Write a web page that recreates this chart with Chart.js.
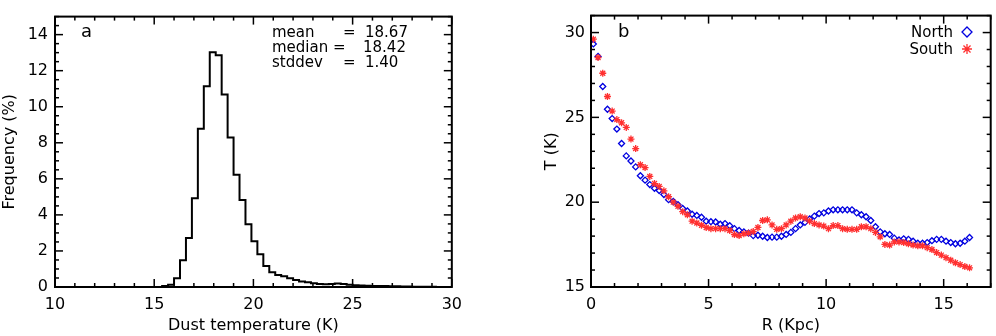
<!DOCTYPE html>
<html><head><meta charset="utf-8">
<script src="https://cdn.jsdelivr.net/npm/chart.js@4.4.1/dist/chart.umd.min.js"></script>
<style>
html,body{margin:0;padding:0;background:#fff;}
#wrap{position:relative;width:996px;height:336px;overflow:hidden;background:#fff;}
#c1{position:absolute;left:0;top:0;width:470px;height:336px;}
#c2{position:absolute;left:542px;top:0;width:454px;height:336px;}
</style></head><body>
<div id="wrap"><canvas id="c1" width="470" height="336"></canvas><canvas id="c2" width="454" height="336"></canvas></div>
<script>
// ---------- Panel a: histogram of dust temperature ----------
const binEdges = [15.4,15.7,16.0,16.3,16.6,16.9,17.2,17.5,17.8,18.1,18.4,18.7,19.0,19.3,19.6,19.9,20.2,20.5,20.8,21.1,
  21.4,21.7,22.0,22.3,22.6,22.9,23.2,23.5,23.8,24.1,24.4,24.7,25.0,25.3,25.6,25.9,26.2,26.5,26.8,27.1,
  27.4,27.7,28.0,28.3,28.6,28.9,29.2];
const frequency = [0.05,0.12,0.49,1.49,2.72,4.92,8.78,11.14,13.02,12.85,10.68,8.30,6.22,4.82,3.48,2.54,1.82,1.16,0.82,0.67,
  0.60,0.49,0.39,0.31,0.26,0.21,0.17,0.15,0.17,0.20,0.16,0.12,0.10,0.08,0.07,0.06,0.05,0.05,0.04,0.04,
  0.03,0.03,0.02,0.02,0.02,0.01];
const histXTicks = [10,15,20,25,30];
const histYTicks = [0,2,4,6,8,10,12,14];
const statLabels = ['mean','median','stddev'];
const statValues = ['18.67','18.42','1.40'];

// ---------- Panel b: radial temperature profiles ----------
const rKpc = [0.1,0.3,0.5,0.7,0.9,1.1,1.3,1.5,1.7,1.9,2.1,2.3,2.5,2.7,2.9,3.1,3.3,3.5,3.7,3.9,
  4.1,4.3,4.5,4.7,4.9,5.1,5.3,5.5,5.7,5.9,6.1,6.3,6.5,6.7,6.9,7.1,7.3,7.5,7.7,7.9,
  8.1,8.3,8.5,8.7,8.9,9.1,9.3,9.5,9.7,9.9,10.1,10.3,10.5,10.7,10.9,11.1,11.3,11.5,11.7,11.9,
  12.1,12.3,12.5,12.7,12.9,13.1,13.3,13.5,13.7,13.9,14.1,14.3,14.5,14.7,14.9,15.1,15.3,15.5,15.7,15.9,16.1];
const northT = [29.33,28.59,26.82,25.48,24.93,24.31,23.46,22.73,22.43,22.08,
  21.56,21.30,21.04,20.82,20.69,20.45,20.15,20.04,19.85,19.63,
  19.48,19.29,19.22,19.11,18.88,18.85,18.83,18.70,18.74,18.61,
  18.44,18.33,18.25,18.18,18.03,18.05,17.99,17.92,17.94,17.94,
  17.99,18.10,18.22,18.44,18.66,18.81,19.01,19.18,19.33,19.37,
  19.48,19.55,19.55,19.55,19.55,19.55,19.37,19.26,19.14,18.92,
  18.55,18.25,18.14,18.10,17.88,17.77,17.84,17.81,17.70,17.58,
  17.58,17.62,17.73,17.81,17.81,17.70,17.62,17.55,17.58,17.70,17.92];
const southT = [29.61,28.53,27.60,26.23,25.37,24.87,24.68,24.41,23.72,23.16,
  22.21,22.04,21.52,21.10,20.93,20.67,20.32,20.00,19.76,19.44,
  19.26,18.88,18.77,18.64,18.51,18.44,18.44,18.44,18.44,18.33,
  18.09,18.03,18.14,18.18,18.27,18.51,18.92,18.96,18.66,18.40,
  18.44,18.66,18.88,19.07,19.14,19.07,18.88,18.74,18.66,18.59,
  18.44,18.62,18.62,18.44,18.40,18.40,18.40,18.55,18.55,18.44,
  18.22,17.96,17.51,17.47,17.66,17.66,17.62,17.55,17.47,17.43,
  17.43,17.32,17.21,17.03,16.88,16.73,16.58,16.43,16.32,16.21,16.13];
const profXTicks = [0,5,10,15];
const profYTicks = [15,20,25,30];
const seriesNames = ['North','South'];

Chart.defaults.font.family = "'DejaVu Sans', sans-serif";
Chart.defaults.font.size = 16;
Chart.defaults.color = '#000';

// IDL-like boxed frame with inward ticks on all four sides
const frameTicks = {
  id: 'frameTicks',
  afterDatasetsDraw(chart, args, o) {
    const {ctx, chartArea: a, scales} = chart;
    const xs = scales.x, ys = scales.y;
    ctx.save();
    ctx.strokeStyle = '#000';
    ctx.lineWidth = 1.5;
    const seg = (x1, y1, x2, y2) => { ctx.beginPath(); ctx.moveTo(x1, y1); ctx.lineTo(x2, y2); ctx.stroke(); };
    const isMajor = (v, m) => Math.abs(v / m - Math.round(v / m)) < 1e-6;
    const nx = Math.round((xs.max - xs.min) / o.xMinor);
    for (let i = 0; i <= nx; i++) {
      const v = xs.min + i * o.xMinor;
      const p = xs.getPixelForValue(v);
      const L = isMajor(v, o.xMajor) ? 8 : 4;
      seg(p, a.bottom, p, a.bottom - L);
      seg(p, a.top, p, a.top + L);
    }
    const ny = Math.round((ys.max - ys.min) / o.yMinor);
    for (let i = 0; i <= ny; i++) {
      const v = ys.min + i * o.yMinor;
      const p = ys.getPixelForValue(v);
      const L = isMajor(v, o.yMajor) ? 8 : 4;
      seg(a.left, p, a.left + L, p);
      seg(a.right, p, a.right - L, p);
    }
    ctx.lineWidth = 2;
    ctx.strokeRect(a.left, a.top, a.right - a.left, a.bottom - a.top);
    ctx.restore();
  }
};

// free text and legend glyphs
const textLayer = {
  id: 'textLayer',
  afterDraw(chart, args, o) {
    const ctx = chart.ctx;
    ctx.save();
    ctx.fillStyle = '#000';
    ctx.textBaseline = 'alphabetic';
    (o.items || []).forEach(t => {
      ctx.font = (t.size || 15) + "px 'DejaVu Sans', sans-serif";
      ctx.textAlign = t.align || 'left';
      ctx.fillText(t.text, t.x, t.y);
    });
    (o.marks || []).forEach(m => {
      ctx.strokeStyle = m.color; ctx.lineWidth = 1.3;
      ctx.beginPath();
      if (m.type === 'diamond') {
        ctx.moveTo(m.x, m.y - m.r); ctx.lineTo(m.x + m.r, m.y); ctx.lineTo(m.x, m.y + m.r); ctx.lineTo(m.x - m.r, m.y); ctx.closePath();
      } else {
        for (let k = 0; k < 4; k++) {
          const ang = k * Math.PI / 4;
          ctx.moveTo(m.x - m.r * Math.cos(ang), m.y - m.r * Math.sin(ang));
          ctx.lineTo(m.x + m.r * Math.cos(ang), m.y + m.r * Math.sin(ang));
        }
      }
      ctx.stroke();
    });
    ctx.restore();
  }
};

function fixedTicks(list) {
  return function (scale) { scale.ticks = list.map(v => ({value: v})); };
}

// histogram as a stepped outline
const histData = [{x: binEdges[0] - 0.3, y: 0}];
binEdges.forEach((e, i) => { if (i < frequency.length) histData.push({x: e, y: frequency[i]}); });
histData.push({x: binEdges[frequency.length], y: 0});

new Chart(document.getElementById('c1'), {
  type: 'line',
  data: {datasets: [{data: histData, stepped: 'before', borderColor: '#000', borderWidth: 2,
    pointRadius: 0, fill: false, tension: 0}]},
  options: {
    responsive: false, animation: false, events: [],
    layout: {padding: {top: 1, right: 13, left: 0, bottom: 0}},
    plugins: {
      legend: {display: false}, tooltip: {enabled: false},
      frameTicks: {xMinor: 1, xMajor: 5, yMinor: 0.5, yMajor: 2},
      textLayer: {items: [
        {text: 'a', x: 81, y: 37, size: 18},
        {text: statLabels[0], x: 272, y: 37}, {text: '=', x: 343, y: 37}, {text: statValues[0], x: 365, y: 37},
        {text: statLabels[1], x: 272, y: 52}, {text: '=', x: 333, y: 52}, {text: statValues[1], x: 363, y: 52},
        {text: statLabels[2], x: 272, y: 67}, {text: '=', x: 343, y: 67}, {text: statValues[2], x: 365, y: 67}
      ]}
    },
    scales: {
      x: {type: 'linear', min: 10, max: 30,
        afterFit(s) { s.height = 49; }, afterBuildTicks: fixedTicks(histXTicks),
        grid: {display: false, drawTicks: false}, border: {display: false},
        ticks: {padding: 8, maxRotation: 0, autoSkip: false, font: {size: 16}},
        title: {display: true, text: 'Dust temperature (K)', font: {size: 16}, padding: {top: 0, bottom: 1}}},
      y: {type: 'linear', min: 0, max: 15,
        afterFit(s) { s.width = 55; }, afterBuildTicks: fixedTicks(histYTicks),
        grid: {display: false, drawTicks: false}, border: {display: false},
        ticks: {padding: 7, font: {size: 16}},
        title: {display: true, text: 'Frequency (%)', font: {size: 16}, padding: {top: 0, bottom: 0}}}
    }
  },
  plugins: [frameTicks, textLayer]
});

const OFF = 542;
new Chart(document.getElementById('c2'), {
  type: 'scatter',
  data: {datasets: [
    {label: seriesNames[1], data: rKpc.map((r, i) => ({x: r, y: southT[i]})), pointStyle: 'star', radius: 3.5,
      borderColor: '#ff3030', backgroundColor: '#ff3030', borderWidth: 1.3},
    {label: seriesNames[0], data: rKpc.map((r, i) => ({x: r, y: northT[i]})), pointStyle: 'rectRot', radius: 3,
      borderColor: '#0000e0', backgroundColor: 'rgba(0,0,0,0)', borderWidth: 1.3}
  ]},
  options: {
    responsive: false, animation: false, events: [],
    layout: {padding: {top: 1, right: 1, left: 0, bottom: 0}},
    plugins: {
      legend: {display: false}, tooltip: {enabled: false},
      frameTicks: {xMinor: 1, xMajor: 5, yMinor: 1, yMajor: 5},
      textLayer: {items: [
        {text: 'b', x: 618 - OFF, y: 37, size: 18},
        {text: seriesNames[0], x: 953 - OFF, y: 37, align: 'right'},
        {text: seriesNames[1], x: 953 - OFF, y: 54, align: 'right'}
      ], marks: [
        {type: 'diamond', x: 967 - OFF, y: 32, r: 5, color: '#0000e0'},
        {type: 'star', x: 967 - OFF, y: 49, r: 5, color: '#ff3030'}
      ]}
    },
    scales: {
      x: {type: 'linear', min: 0, max: 17,
        afterFit(s) { s.height = 49; }, afterBuildTicks: fixedTicks(profXTicks),
        grid: {display: false, drawTicks: false}, border: {display: false},
        ticks: {padding: 8, maxRotation: 0, autoSkip: false, font: {size: 16}},
        title: {display: true, text: 'R (Kpc)', font: {size: 16}, padding: {top: 0, bottom: 1}}},
      y: {type: 'linear', min: 15, max: 31,
        afterFit(s) { s.width = 49; }, afterBuildTicks: fixedTicks(profYTicks),
        grid: {display: false, drawTicks: false}, border: {display: false},
        ticks: {padding: 6, font: {size: 16}},
        title: {display: true, text: 'T (K)', font: {size: 16}, padding: {top: 0, bottom: 0}}}
    }
  },
  plugins: [frameTicks, textLayer]
});
</script>
</body></html>
